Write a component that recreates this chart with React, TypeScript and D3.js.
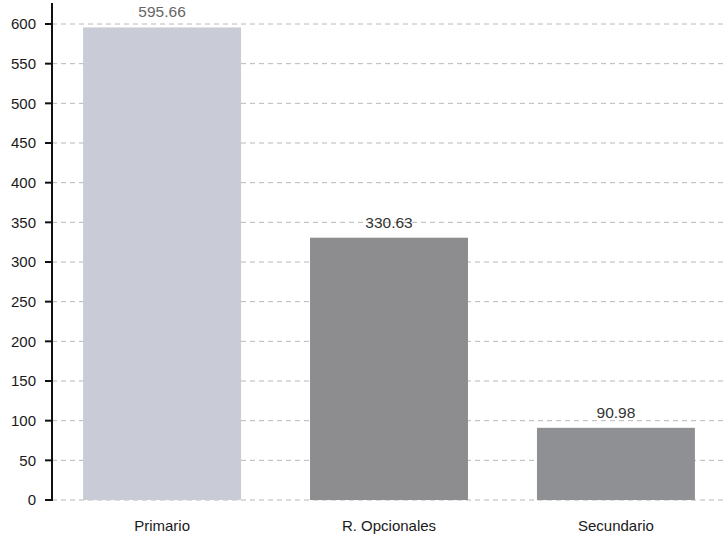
import React from 'react';
import * as d3 from 'd3';

const categories = ['Primario', 'R. Opcionales', 'Secundario'];
const values = [595.66, 330.63, 90.98];
const barColors = ['#c9ccd7', '#8d8d90', '#8f9094'];
const labelColors = ['#666', '#333', '#333'];
const yTicks = [0, 50, 100, 150, 200, 250, 300, 350, 400, 450, 500, 550, 600];

const width = 726;
const height = 539;
const axisX = 52;
const yBottom = 500;
const yTop = 24;

export default function App() {
  const x = d3.scaleBand<string>()
    .domain(categories)
    .range([axisX, 726])
    .paddingInner(0.304)
    .paddingOuter(0.137);

  const y = d3.scaleLinear().domain([0, 600]).range([yBottom, yTop]);

  return (
    <svg
      width={width}
      height={height}
      style={{ position: 'absolute', left: 0, top: 0, background: '#fff' }}
      fontFamily="'Liberation Sans', Arial, sans-serif"
    >
      {/* gridlines */}
      {yTicks.map(t => (
        <line
          key={'g' + t}
          x1={axisX}
          x2={width}
          y1={y(t)}
          y2={y(t)}
          stroke="#b8b8b8"
          strokeWidth={1}
          strokeDasharray="5,4"
        />
      ))}

      {/* bars */}
      {categories.map((c, i) => (
        <rect
          key={c}
          x={x(c)}
          y={y(values[i])}
          width={x.bandwidth()}
          height={yBottom - y(values[i])}
          fill={barColors[i]}
        />
      ))}

      {/* value labels */}
      {categories.map((c, i) => (
        <text
          key={'v' + c}
          x={(x(c) ?? 0) + x.bandwidth() / 2}
          y={y(values[i]) - 10}
          textAnchor="middle"
          fontSize={15.5}
          fill={labelColors[i]}
        >
          {values[i].toFixed(2)}
        </text>
      ))}

      {/* y axis */}
      <line x1={axisX} x2={axisX} y1={3} y2={yBottom + 1} stroke="#111" strokeWidth={2} />
      {yTicks.map(t => (
        <g key={'t' + t}>
          <line x1={axisX - 7} x2={axisX} y1={y(t)} y2={y(t)} stroke="#111" strokeWidth={2} />
          <text
            x={36}
            y={y(t)}
            dy="0.35em"
            textAnchor="end"
            fontSize={15}
            fill="#1a1a1a"
          >
            {t}
          </text>
        </g>
      ))}

      {/* category labels */}
      {categories.map(c => (
        <text
          key={'c' + c}
          x={(x(c) ?? 0) + x.bandwidth() / 2}
          y={531}
          textAnchor="middle"
          fontSize={15}
          fill="#1a1a1a"
        >
          {c}
        </text>
      ))}
    </svg>
  );
}
